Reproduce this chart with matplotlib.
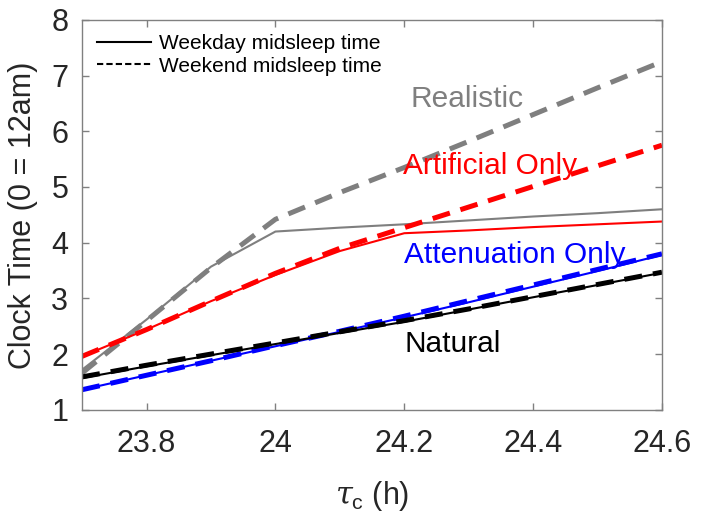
import matplotlib
matplotlib.use("Agg")
import matplotlib.pyplot as plt
from matplotlib.lines import Line2D

plt.rcParams["font.family"] = ["Liberation Sans", "DejaVu Sans"]
plt.rcParams["mathtext.fontset"] = "custom"
plt.rcParams["mathtext.rm"] = "Liberation Sans"
plt.rcParams["mathtext.it"] = "DejaVu Serif:italic"

# period of the clock (h)
tau_c = [23.7, 23.8, 23.9, 24.0, 24.1, 24.2, 24.3, 24.4, 24.5, 24.6]

# midsleep clock time (h after midnight)
realistic_weekday = [1.72, 2.62, 3.57, 4.20, 4.27, 4.33, 4.40, 4.47, 4.53, 4.60]
realistic_weekend = [1.66, 2.60, 3.55, 4.42, 4.90, 5.35, 5.82, 6.30, 6.78, 7.25]
artificial_weekday = [1.96, 2.44, 2.95, 3.42, 3.85, 4.17, 4.22, 4.28, 4.33, 4.38]
artificial_weekend = [1.96, 2.44, 2.95, 3.45, 3.90, 4.27, 4.64, 5.01, 5.38, 5.75]
attenuation_weekday = [1.36, 1.62, 1.88, 2.14, 2.40, 2.66, 2.93, 3.21, 3.49, 3.78]
attenuation_weekend = [1.36, 1.62, 1.88, 2.15, 2.41, 2.68, 2.96, 3.24, 3.52, 3.80]
natural_weekday = [1.57, 1.78, 1.98, 2.18, 2.38, 2.58, 2.80, 3.02, 3.24, 3.46]
natural_weekend = [1.59, 1.80, 2.00, 2.20, 2.40, 2.60, 2.81, 3.03, 3.25, 3.47]

GRAY = "#7f7f7f"
series = [
    (realistic_weekday, realistic_weekend, GRAY, "Realistic", 24.21, 6.44),
    (artificial_weekday, artificial_weekend, "#ff0000", "Artificial Only", 24.198, 5.24),
    (attenuation_weekday, attenuation_weekend, "#0000ff", "Attenuation Only", 24.2, 3.64),
    (natural_weekday, natural_weekend, "#000000", "Natural", 24.2, 2.04),
]

fig = plt.figure(figsize=(7.02, 5.24), dpi=100)
ax = fig.add_axes([0.117, 0.218, 0.826, 0.744])

for weekday, weekend, color, name, tx, ty in series:
    ax.plot(tau_c, weekend, color=color, lw=3.6, dashes=(3.6, 2.2))
    ax.plot(tau_c, weekday, color=color, lw=1.5)
    ax.text(tx, ty, name, color=color, fontsize=21.5, ha="left", va="baseline")

ax.set_xlim(23.7, 24.6)
ax.set_ylim(1, 8)
ax.set_xticks([23.8, 24.0, 24.2, 24.4, 24.6])
ax.set_xticklabels(["23.8", "24", "24.2", "24.4", "24.6"])
ax.set_yticks(range(1, 9))

for s in ax.spines.values():
    s.set_color("#808080")
    s.set_linewidth(1.0)
ax.tick_params(direction="in", length=5, width=1, color="#808080",
               top=True, right=True, labelsize=22, labelcolor="#262626")
ax.tick_params(axis="x", pad=14)
ax.tick_params(axis="y", pad=10)

ax.set_ylabel("Clock Time (0 = 12am)", fontsize=22, color="#262626")
ax.yaxis.set_label_coords(-0.076, 0.5)
ax.set_xlabel(r"$\tau_{\mathrm{c}}$ (h)", fontsize=22, color="#262626")
ax.xaxis.set_label_coords(0.5, -0.178)

handles = [
    Line2D([], [], color="black", lw=1.5),
    Line2D([], [], color="black", lw=1.5, dashes=(3.0, 1.5)),
]
ax.legend(handles, ["Weekday midsleep time", "Weekend midsleep time"],
          loc="upper left", frameon=False, fontsize=15, handlelength=2.6,
          handletextpad=0.38, labelspacing=0.15, borderaxespad=0.3)

fig.savefig("out.png", dpi=100)
